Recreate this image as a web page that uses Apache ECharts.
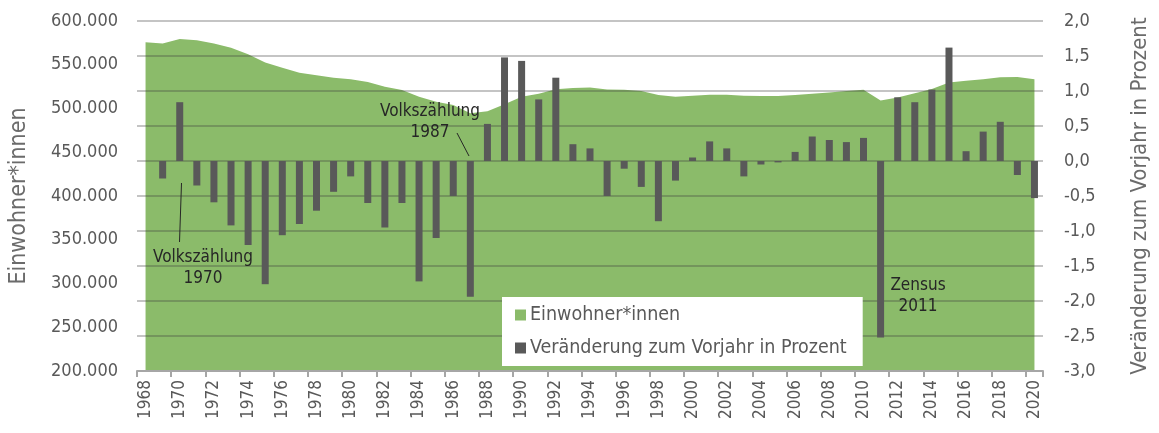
<!DOCTYPE html>
<html>
<head>
<meta charset="utf-8">
<script src="https://cdn.jsdelivr.net/npm/echarts@6/dist/echarts.min.js"></script>
<style>
  html, body { margin: 0; padding: 0; background: #fff; }
  #chart { width: 1159px; height: 433px; }
</style>
</head>
<body>
<div id="chart"></div>
<script>
// Jahre (Kategorien)
const years = ['1968', '1969', '1970', '1971', '1972', '1973', '1974', '1975', '1976', '1977',
  '1978', '1979', '1980', '1981', '1982', '1983', '1984', '1985', '1986', '1987',
  '1988', '1989', '1990', '1991', '1992', '1993', '1994', '1995', '1996', '1997',
  '1998', '1999', '2000', '2001', '2002', '2003', '2004', '2005', '2006', '2007',
  '2008', '2009', '2010', '2011', '2012', '2013', '2014', '2015', '2016', '2017',
  '2018', '2019', '2020']

// Einwohner*innen
const population = [575600, 574400, 579400, 577900, 574400, 569500, 561900, 552700, 546600, 540900,
  537900, 535200, 533300, 530200, 524900, 521100, 513400, 507700, 504000, 494500,
  497000, 505000, 513400, 517000, 522000, 523400, 524000, 521800, 521400, 520000,
  515400, 513400, 514600, 515700, 515700, 514600, 514200, 514200, 515400, 516900,
  518400, 520000, 521400, 509200, 512700, 517300, 522200, 529800, 531700, 533300,
  535600, 536000, 533300]

// Veränderung zum Vorjahr in Prozent
const change = [null, -0.25, 0.84, -0.35, -0.59, -0.92, -1.2, -1.76, -1.06, -0.9,
  -0.71, -0.44, -0.22, -0.6, -0.95, -0.6, -1.72, -1.1, -0.5, -1.94,
  0.53, 1.48, 1.43, 0.88, 1.19, 0.24, 0.18, -0.5, -0.11, -0.37,
  -0.86, -0.28, 0.05, 0.28, 0.18, -0.22, -0.05, -0.02, 0.13, 0.35,
  0.3, 0.27, 0.33, -2.52, 0.91, 0.84, 1.02, 1.62, 0.14, 0.42,
  0.56, -0.2, -0.53]

const FONT = '"DejaVu Sans Condensed", "Liberation Sans Narrow", "DejaVu Sans", sans-serif'
const GREY = '#595959'

const chart = echarts.init(document.getElementById('chart'))

chart.setOption({
  animation: false,
  textStyle: { fontFamily: FONT },
  grid: { left: 137, right: 114, top: 21, bottom: 62 },
  legend: {
    orient: 'vertical',
    left: 502,
    top: 297,
    width: 360,
    padding: [8, 16, 8, 13],
    itemGap: 13,
    itemWidth: 11,
    itemHeight: 11,
    backgroundColor: '#ffffff',
    textStyle: { fontFamily: FONT, fontSize: 19.5, color: GREY, padding: [0, 0, 0, -1] },
    data: [
      { name: 'Einwohner*innen', icon: 'rect' },
      { name: 'Veränderung zum Vorjahr in Prozent', icon: 'rect' }
    ]
  },
  xAxis: {
    type: 'category',
    data: years,
    boundaryGap: true,
    z: 4,
    axisLine: { show: true, onZero: false, lineStyle: { color: '#a6a6a6', width: 2 } },
    axisTick: { show: true, interval: 1, length: 6, lineStyle: { color: '#a6a6a6', width: 2 } },
    axisLabel: { interval: 1, rotate: 90, margin: 9, fontSize: 17, color: GREY, fontFamily: FONT }
  },
  yAxis: [
    {
      type: 'value',
      min: 200000,
      max: 600000,
      interval: 50000,
      name: 'Einwohner*innen',
      nameLocation: 'middle',
      nameRotate: 90,
      nameGap: 106,
      nameTextStyle: { fontSize: 23, color: '#6b6b6b', fontFamily: FONT },
      axisLine: { show: false },
      axisTick: { show: false },
      splitLine: { show: false },
      axisLabel: {
        margin: 19,
        fontSize: 18,
        color: GREY,
        fontFamily: FONT,
        formatter: v => String(v).replace(/\B(?=(\d{3})+(?!\d))/g, '.')
      }
    },
    {
      type: 'value',
      min: -3,
      max: 2,
      interval: 0.5,
      z: 3,
      name: 'Veränderung zum Vorjahr in Prozent',
      nameLocation: 'middle',
      nameRotate: 90,
      nameGap: 86,
      nameTextStyle: { fontSize: 22, color: '#6b6b6b', fontFamily: FONT },
      axisLine: { show: false },
      axisTick: { show: false },
      splitLine: { show: true, lineStyle: { type: 'solid', color: 'rgba(60,60,60,0.3)', width: 2, opacity: 1 } },
      axisLabel: {
        margin: 21,
        fontSize: 18,
        color: GREY,
        fontFamily: FONT,
        formatter: v => v.toFixed(1).replace('.', ',')
      }
    }
  ],
  series: [
    {
      name: 'Einwohner*innen',
      type: 'line',
      yAxisIndex: 0,
      data: population,
      showSymbol: false,
      symbol: 'none',
      z: 1,
      itemStyle: { color: '#8bbb6a' },
      lineStyle: { width: 0 },
      areaStyle: { color: '#8bbb6a', opacity: 1, origin: 'start' }
    },
    {
      name: 'Veränderung zum Vorjahr in Prozent',
      type: 'bar',
      yAxisIndex: 1,
      data: change,
      barWidth: 7,
      z: 5,
      itemStyle: { color: GREY }
    }
  ],
  graphic: [
    { type: 'line', z: 10, shape: { x1: 181.5, y1: 183, x2: 179.5, y2: 242 }, style: { stroke: '#262626', lineWidth: 1 } },
    { type: 'text', z: 10, style: { text: 'Volkszählung\n1970', x: 203, y: 268, align: 'center', verticalAlign: 'middle', fontSize: 17, lineHeight: 21, fontFamily: FONT, fill: '#262626' } },
    { type: 'line', z: 10, shape: { x1: 457, y1: 133, x2: 469, y2: 156 }, style: { stroke: '#262626', lineWidth: 1 } },
    { type: 'text', z: 10, style: { text: 'Volkszählung\n1987', x: 430, y: 122, align: 'center', verticalAlign: 'middle', fontSize: 17, lineHeight: 21, fontFamily: FONT, fill: '#262626' } },
    { type: 'text', z: 10, style: { text: 'Zensus\n2011', x: 918, y: 296, align: 'center', verticalAlign: 'middle', fontSize: 17, lineHeight: 21, fontFamily: FONT, fill: '#262626' } }
  ]
})
</script>
</body>
</html>
